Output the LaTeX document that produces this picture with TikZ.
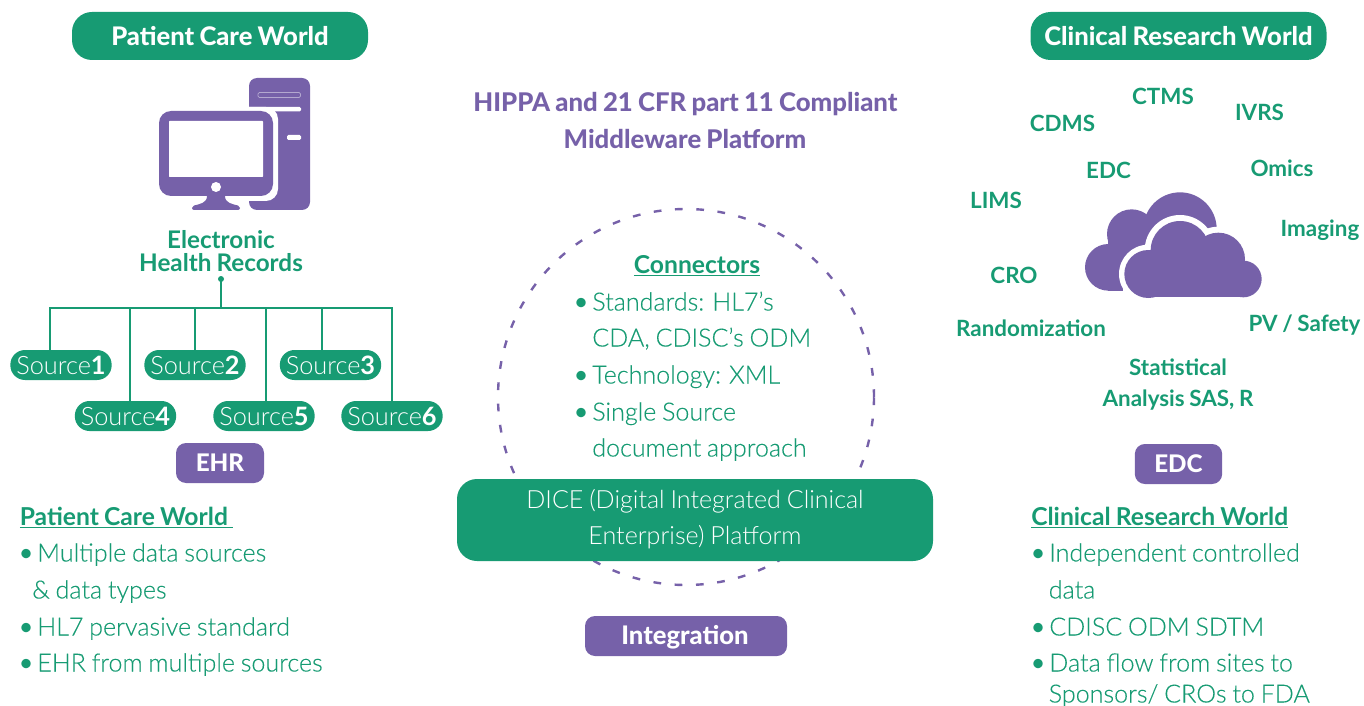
\documentclass[tikz,border=0pt]{standalone}
\usepackage{fontspec}
\setmainfont{Lato}[WordSpace=0.85]
\newfontfamily\lightf{Lato Light}[WordSpace=0.85]
\newfontfamily\bookf{Lato Light}[WordSpace=0.85,FakeBold=0.2]
\newfontfamily\heavyf{Lato Heavy}[WordSpace=0.85]
\definecolor{grn}{HTML}{179B73}
\definecolor{pur}{HTML}{7661A9}
\tikzset{
  x=0.75pt,y=-0.75pt,
  pill/.style={fill=grn,rounded corners=15pt,text=white,font=\heavyf\fontsize{19.2pt}{20pt}\selectfont,minimum width=222pt,minimum height=36pt,inner sep=0pt},
  tag/.style={fill=pur,rounded corners=7.5pt,text=white,font=\heavyf\fontsize{18.2pt}{20pt}\selectfont,minimum height=30pt,inner sep=0pt},
  src/.style={fill=grn,rounded corners=11pt,text=white,font=\fontsize{19pt}{20pt}\selectfont\lightf,minimum width=76pt,minimum height=22.5pt,inner sep=0pt},
  lab/.style={text=grn,font=\bfseries\fontsize{16.8pt}{18pt}\selectfont,inner sep=0pt,anchor=base},
  biglab/.style={lab,font=\bfseries\fontsize{18.2pt}{18pt}\selectfont},
  ttl/.style={text=pur,font=\heavyf\fontsize{19.3pt}{20pt}\selectfont,inner sep=0pt,anchor=base},
  item/.style={text=grn,font=\bookf\fontsize{18.8pt}{20pt}\selectfont,inner sep=0pt,anchor=base west},
  head/.style={text=grn,font=\bfseries\fontsize{18.5pt}{20pt}\selectfont,inner sep=0pt,anchor=base west},
  dicetxt/.style={text=white,font=\lightf\fontsize{18.8pt}{20pt}\selectfont,inner sep=0pt,anchor=base},
  wire/.style={draw=grn,line width=1.5pt},
}
\newcommand{\blt}{\makebox[13.9pt][l]{\normalfont\textbullet}}
\begin{document}
\begin{tikzpicture}
\useasboundingbox (0,0) rectangle (1364,706);
% computer
\fill[pur,rounded corners=6pt] (249,78) rectangle (310,210);
\draw[white,opacity=.45,line width=.5pt,rounded corners=1pt] (258,92.5) rectangle (300.5,97.5);
\fill[white,rounded corners=1pt] (240,107) rectangle (301,111.5);
\fill[white,rounded corners=1pt] (287,135) rectangle (301,140);
\fill[white,rounded corners=9pt] (200,107) -- (278,107) -- (278,201) -- (200,201) -- cycle;
\fill[pur,rounded corners=9pt] (159,111) rectangle (273,196);
\fill[white,rounded corners=.5pt] (169,121) rectangle (263,177);
\fill[white] (216,187) circle (5);
\fill[pur,rounded corners=1.5pt] (207,194) .. controls (207,203) and (200,204) .. (192,206) -- (192,210) -- (240,210) -- (240,206) .. controls (232,204) and (225,203) .. (225,194) -- cycle;
% cloud
\begin{scope}[shift={(1060,170)},x=0.25pt,y=-0.25pt]
\fill[pur] (145,292) circle (70);
\fill[pur] (215,192) circle (74);
\fill[pur] (360,177) circle (110);
\fill[pur] (145,240) rectangle (190,362.5);
\fill[pur] (145,190) rectangle (400,300);
\fill[white] (265,312) circle (88);
\fill[white] (360,241) circle (106);
\fill[white] (475,268) circle (98);
\fill[white] (550,327) circle (73);
\fill[white] (265,260) rectangle (550,400);
\fill[white] (470,168) rectangle (660,430);
\fill[white] (150,364) rectangle (660,430);
\fill[pur] (265,312) circle (72);
\fill[pur] (360,241) circle (88);
\fill[pur] (475,268) circle (80);
\fill[pur] (550,327) circle (55);
\fill[pur] (265,250) rectangle (550,382);
\end{scope}
% circle
\node[draw=pur,line width=1.8pt,dash pattern=on 5.8pt off 10.2pt,circle,minimum size=282pt,inner sep=0pt] (ring) at (686,397) {};
% pills
\node[pill] (pcw) at (220,36) {Patient Care World};
\node[pill] (crw) at (1178.5,36) {Clinical Research World};
\node[ttl] (t1) at (685.5,112) {HIPPA and 21 CFR part 11 Compliant};
\node[ttl] (t2) at (685,149) {Middleware Platform};
% EHR tree
\node[biglab] (e1) at (221,248) {Electronic};
\node[biglab] (e2) at (221,272) {Health Records};
\coordinate (dot) at (221,279);
\coordinate (hub) at (221,307.5);
\fill[grn] (dot) circle (3);
\node[src] (s1) at (61,365) {Source{\fontspec{Lato}\bfseries 1}};
\node[src] (s2) at (195,365) {Source{\fontspec{Lato}\bfseries 2}};
\node[src] (s3) at (330.5,365) {Source{\fontspec{Lato}\bfseries 3}};
\node[src] (s4) at (125.5,416) {Source{\fontspec{Lato}\bfseries 4}};
\node[src] (s5) at (264,416) {Source{\fontspec{Lato}\bfseries 5}};
\node[src] (s6) at (392,416) {Source{\fontspec{Lato}\bfseries 6}};
\coordinate (b1) at (50,307.5);
\coordinate (b4) at (130,307.5);
\coordinate (b2) at (195,307.5);
\coordinate (b5) at (266,307.5);
\coordinate (b3) at (322,307.5);
\coordinate (b6) at (392,307.5);
\draw[wire] (dot) -- (hub);
\draw[wire] (b1 |- s1.north) -- (b1) -- (b6) -- (b6 |- s6.north);
\draw[wire] (b4) -- (b4 |- s4.north);
\draw[wire] (b2) -- (b2 |- s2.north);
\draw[wire] (b5) -- (b5 |- s5.north);
\draw[wire] (b3) -- (b3 |- s3.north);
\node[tag,minimum width=66pt] (ehr) at (220,463) {EHR};
% left list
\node[head] (l0) at (19.5,525.5) {\underline{Patient Care World\ }};
\node[item] (l1) at (18.5,561.5) {\blt Multiple data sources};
\node[item] (l2) at (32,598.5) {\&\ data types};
\node[item] (l3) at (18.5,635.5) {\blt HL7 pervasive standard};
\node[item] (l4) at (18.5,671.5) {\blt EHR from multiple sources};
% centre list
\node[head,anchor=base] (c0) at (697,273.5) {\underline{Connectors}};
\node[item] (c1) at (573.5,310.5) {\blt Standards: HL7’s};
\node[item] (c2) at (592,346.5) {CDA, CDISC’s ODM};
\node[item] (c3) at (573.5,383.5) {\blt Technology: XML};
\node[item] (c4) at (573.5,420.5) {\blt Single Source};
\node[item] (c5) at (592,456.5) {document approach};
% DICE
\node[fill=grn,rounded corners=15pt,minimum width=357pt,minimum height=61.5pt,inner sep=0pt] (dice) at (695,520) {};
\node[dicetxt] (d1) at (695,508.5) {DICE (Digital Integrated Clinical};
\node[dicetxt] (d2) at (695,544.5) {Enterprise) Platform};
\node[fill=pur,rounded corners=7.5pt,minimum width=151.5pt,minimum height=30pt,inner sep=0pt] (integ) at (686,636) {};
\node[text=white,font=\heavyf\fontsize{19.2pt}{20pt}\selectfont,inner sep=0pt,anchor=base] (integt) at (685,644) {Integration};
% right labels
\node[lab] (r1) at (1163,105) {CTMS};
\node[lab] (r2) at (1062.5,132) {CDMS};
\node[lab] (r3) at (1259.5,121) {IVRS};
\node[lab] (r4) at (1108.5,179) {EDC};
\node[lab] (r5) at (1282,177) {Omics};
\node[lab] (r6) at (996,209) {LIMS};
\node[lab] (r7) at (1320,237) {Imaging};
\node[lab] (r8) at (1014,283) {CRO};
\node[lab] (r9) at (1031,336) {Randomization};
\node[lab] (r10) at (1304.5,331) {PV / Safety};
\node[lab] (r11) at (1178,375) {Statistical};
\node[lab] (r12) at (1178,406) {Analysis SAS, R};
\node[tag,minimum width=65.5pt] (edc) at (1178.5,464) {EDC};
% right list
\node[head] (q0) at (1031,525.5) {\underline{Clinical Research World}};
\node[item] (q1) at (1030.5,561.5) {\blt Independent controlled};
\node[item] (q2) at (1048.5,598.5) {data};
\node[item] (q3) at (1030.5,635.5) {\blt CDISC ODM SDTM};
\node[item] (q4) at (1030.5,671.5) {\blt Data flow from sites to};
\node[item] (q5) at (1048.5,702.5) {Sponsors/ CROs to FDA};
\end{tikzpicture}
\end{document}
